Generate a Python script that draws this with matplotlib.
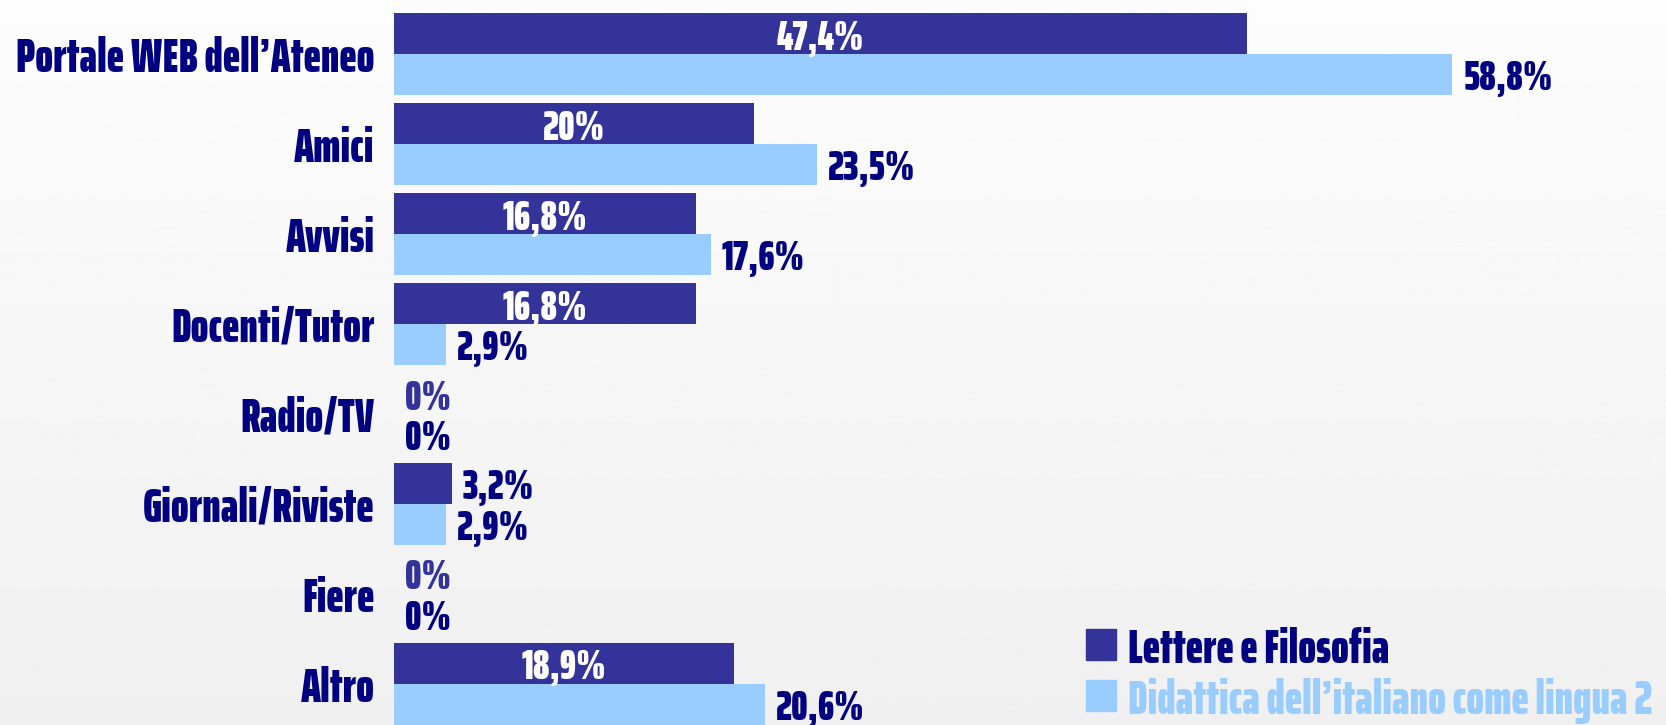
import matplotlib.pyplot as plt
import numpy as np

categories = ['Portale WEB dell\u2019Ateneo', 'Amici', 'Avvisi', 'Docenti/Tutor',
              'Radio/TV', 'Giornali/Riviste', 'Fiere', 'Altro']
lettere = [47.4, 20, 16.8, 16.8, 0, 3.2, 0, 18.9]
didattica = [58.8, 23.5, 17.6, 2.9, 0, 2.9, 0, 20.6]
series_names = ['Lettere e Filosofia', 'Didattica dell\u2019italiano come lingua 2']

DARK = '#333399'
LIGHT = '#99ccff'
NAVY = '#000080'
FS = 30      # value labels
FS_CAT = 34  # category labels and legend

plt.rcParams['font.family'] = ['Saira ExtraCondensed', 'DejaVu Sans']
plt.rcParams['font.weight'] = 900

fig = plt.figure(figsize=(16.66, 7.25), dpi=100)

# soft vertical gradient behind everything
bg = fig.add_axes([0, 0, 1, 1], zorder=0)
grad = np.linspace(0.99, 0.94, 256).reshape(-1, 1)
bg.imshow(grad, aspect='auto', cmap='gray', vmin=0, vmax=1, extent=[0, 1, 0, 1])
bg.axis('off')

left = 394 / 1666
ax = fig.add_axes([left, 0, 1 - left, 1], zorder=1)
ax.patch.set_alpha(0)

y = np.arange(len(categories))
h = 0.455
ax.barh(y - h / 2, lettere, height=h, color=DARK)
ax.barh(y + h / 2, didattica, height=h, color=LIGHT)

ax.set_xlim(0, (1666 - 394) / 18)
ax.set_ylim(7.456, -0.6)
for s in ax.spines.values():
    s.set_visible(False)
ax.set_xticks([])
ax.set_yticks(y)
ax.set_yticklabels(categories, fontsize=FS_CAT, color=NAVY)
ax.tick_params(axis='y', length=0, pad=14)

def fmt(v):
    return (f'{v:g}'.replace('.', ',')) + '%'

for i, v in enumerate(lettere):
    if v > 5:
        ax.text(v / 2, i - h / 2, fmt(v), ha='center', va='center_baseline',
                color='white', fontsize=FS)
    else:
        ax.annotate(fmt(v), (v, i - h / 2), xytext=(8, 0), textcoords='offset points',
                    ha='left', va='center_baseline', fontsize=FS,
                    color=DARK if v == 0 else NAVY)

for i, v in enumerate(didattica):
    ax.annotate(fmt(v), (v, i + h / 2), xytext=(8, 0), textcoords='offset points',
                ha='left', va='center_baseline', fontsize=FS, color=NAVY)

# legend drawn by hand, square markers + coloured text
for k, (name, col, tcol) in enumerate(zip(series_names, [DARK, LIGHT], [NAVY, LIGHT])):
    yy = 1 - (645 + k * 51) / 725
    fig.patches.append(plt.Rectangle((1086 / 1666, yy - 15 / 725), 30 / 1666, 31 / 725,
                                     transform=fig.transFigure, color=col, zorder=3))
    fig.text(1128 / 1666, yy, name, color=tcol, fontsize=FS_CAT, va='center_baseline',
             ha='left', zorder=3)

fig.savefig('out.png', dpi=100)
